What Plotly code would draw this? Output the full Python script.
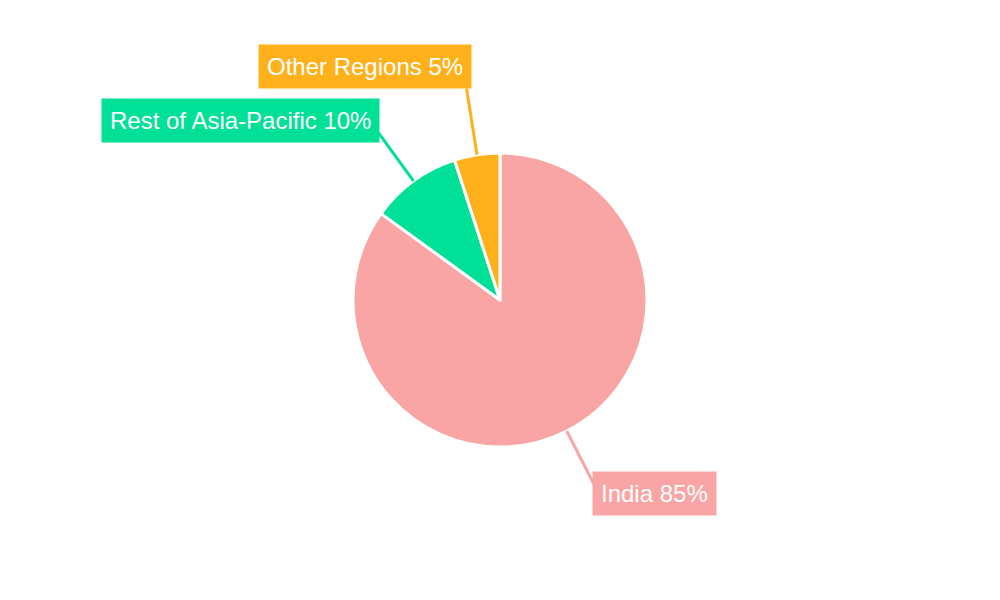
import math
import plotly.graph_objects as go

labels = ["India", "Rest of Asia-Pacific", "Other Regions"]
values = [85, 10, 5]
colors = ["#F9A5A5", "#00E096", "#FFB11B"]

W, H = 1000, 600
CX, CY, R = 500, 300, 147

fig = go.Figure(go.Pie(
    labels=labels, values=values,
    sort=False, direction="clockwise", rotation=0,
    marker=dict(colors=colors, line=dict(color="white", width=3)),
    textinfo="none", hoverinfo="label+percent",
    domain=dict(x=[0, 1], y=[(CY - R) / H, (CY + R) / H]),
    showlegend=False,
))

# leader lines + boxed labels, placed from each slice's mid-angle
line_len = [60, 60, 67]
label_style = [
    dict(xanchor="left", yanchor="middle", xshift=-2, yshift=-9),
    dict(xanchor="right", yanchor="middle", xshift=2, yshift=12),
    dict(xanchor="right", yanchor="bottom", xshift=5, yshift=0),
]
total = sum(values)
start = 0.0
for lab, val, col, ll, st in zip(labels, values, colors, line_len, label_style):
    mid = (start + val / 2) / total * 2 * math.pi
    start += val
    sx, sy = math.sin(mid), -math.cos(mid)
    x0, y0 = CX + R * sx, CY + R * sy
    x1, y1 = CX + (R + ll) * sx, CY + (R + ll) * sy
    fig.add_shape(type="line", xref="paper", yref="paper",
                  x0=x0 / W, y0=1 - y0 / H, x1=x1 / W, y1=1 - y1 / H,
                  line=dict(color=col, width=3))
    fig.add_annotation(
        x=x1 / W, y=1 - y1 / H, xref="paper", yref="paper",
        text=f"{lab} {val / total * 100:.0f}%", showarrow=False,
        font=dict(family="Liberation Sans, Arial, sans-serif", size=24, color="white"),
        bgcolor=col, borderpad=8, **st,
    )

fig.update_layout(
    width=W, height=H,
    margin=dict(l=0, r=0, t=0, b=0),
    paper_bgcolor="white", plot_bgcolor="white",
)
fig.write_html("out.html", config={"displayModeBar": False},
               post_script="document.body.style.margin='0';")
